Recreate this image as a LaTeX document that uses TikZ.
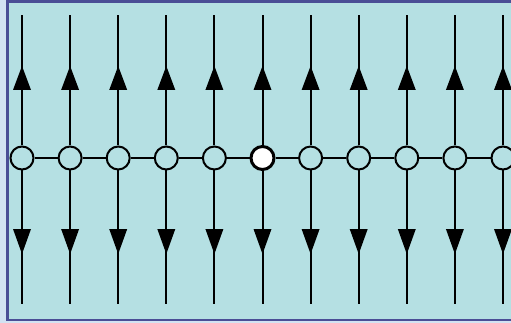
\documentclass[tikz,border=0pt]{standalone}
\definecolor{bg}{HTML}{B5E0E3}
\definecolor{framecol}{HTML}{4A4E96}
\definecolor{outercol}{HTML}{D2E2F2}
\begin{document}
\begin{tikzpicture}[x=1pt,y=-1pt,
  site/.style={circle,draw=black,line width=2pt,minimum size=23pt,inner sep=0pt},
  hot/.style={site,fill=white,line width=3pt},
  wire/.style={draw=black,line width=2pt},
  tip/.style={fill=black}]
\useasboundingbox (0,0) rectangle (511,323);
\fill[outercol] (0,0) rectangle (511,323);
\filldraw[fill=bg,draw=framecol,line width=2.5pt] (7.5,1.5) rectangle (525,320);
\foreach \i in {0,...,10}{
  \pgfmathsetmacro{\xx}{22+48.1*\i}
  \coordinate (t\i) at (\xx,15);
  \coordinate (b\i) at (\xx,304);
  \ifnum\i=5
    \node[hot] (c\i) at (\xx,158) {};
  \else
    \node[site] (c\i) at (\xx,158) {};
  \fi
  \draw[wire] (c\i) -- (t\i);
  \draw[wire] (c\i) -- (b\i);
  \fill[tip] (\xx,66) -- (\xx-9,90) -- (\xx+9,90) -- cycle;
  \fill[tip] (\xx,254) -- (\xx-9,229) -- (\xx+9,229) -- cycle;
}
\foreach \i [evaluate=\i as \j using int(\i+1)] in {0,...,9}{
  \draw[wire] (c\i) -- (c\j);
}
\end{tikzpicture}
\end{document}
